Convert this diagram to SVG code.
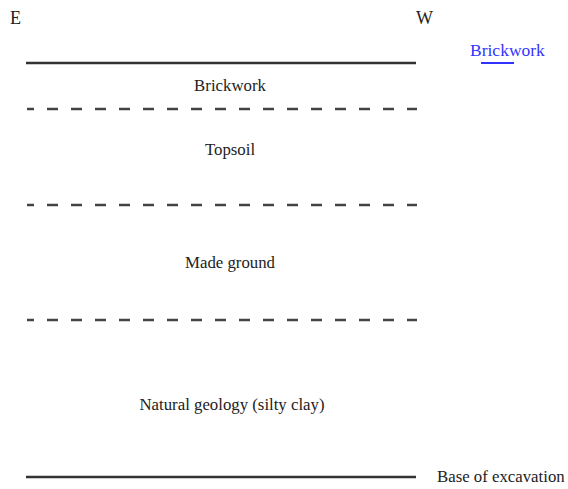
<svg xmlns="http://www.w3.org/2000/svg" width="568" height="489" viewBox="0 0 568 489">
<style>
.t{font-family:"Liberation Serif","Times New Roman",serif;font-size:16.8px;fill:#222}
.c{text-anchor:middle}
.solid{stroke:#333;stroke-width:2.5;fill:none}
.dash{stroke:#444;stroke-width:2.5;fill:none;stroke-dasharray:11 13;stroke-dashoffset:4}
</style>
<rect width="568" height="489" fill="#fff"/>
<g id="labels">
<text class="t" x="10" y="24" style="font-size:18px">E</text>
<text class="t" x="416" y="24" style="font-size:18px">W</text>
</g>
<g id="legend">
<text class="t" x="470" y="56" style="fill:#3333ff;font-size:17.5px">Brickwork</text>
<line x1="481" y1="63" x2="514" y2="63" stroke="#3333ff" stroke-width="2"/>
</g>
<g id="connectors">
<line class="solid" x1="26" y1="63" x2="416" y2="63"/>
<line class="dash" x1="27" y1="109" x2="417" y2="109"/>
<line class="dash" x1="27" y1="205" x2="417" y2="205"/>
<line class="dash" x1="27" y1="320" x2="417" y2="320"/>
<line class="solid" x1="26" y1="477" x2="416" y2="477"/>
</g>
<g id="brickwork"><text class="t c" x="230" y="91">Brickwork</text></g>
<g id="topsoil"><text class="t c" x="230" y="155">Topsoil</text></g>
<g id="made-ground"><text class="t c" x="230" y="268">Made ground</text></g>
<g id="natural"><text class="t c" x="232" y="410">Natural geology (silty clay)</text></g>
<g id="base"><text class="t" x="437" y="482">Base of excavation</text></g>
</svg>
